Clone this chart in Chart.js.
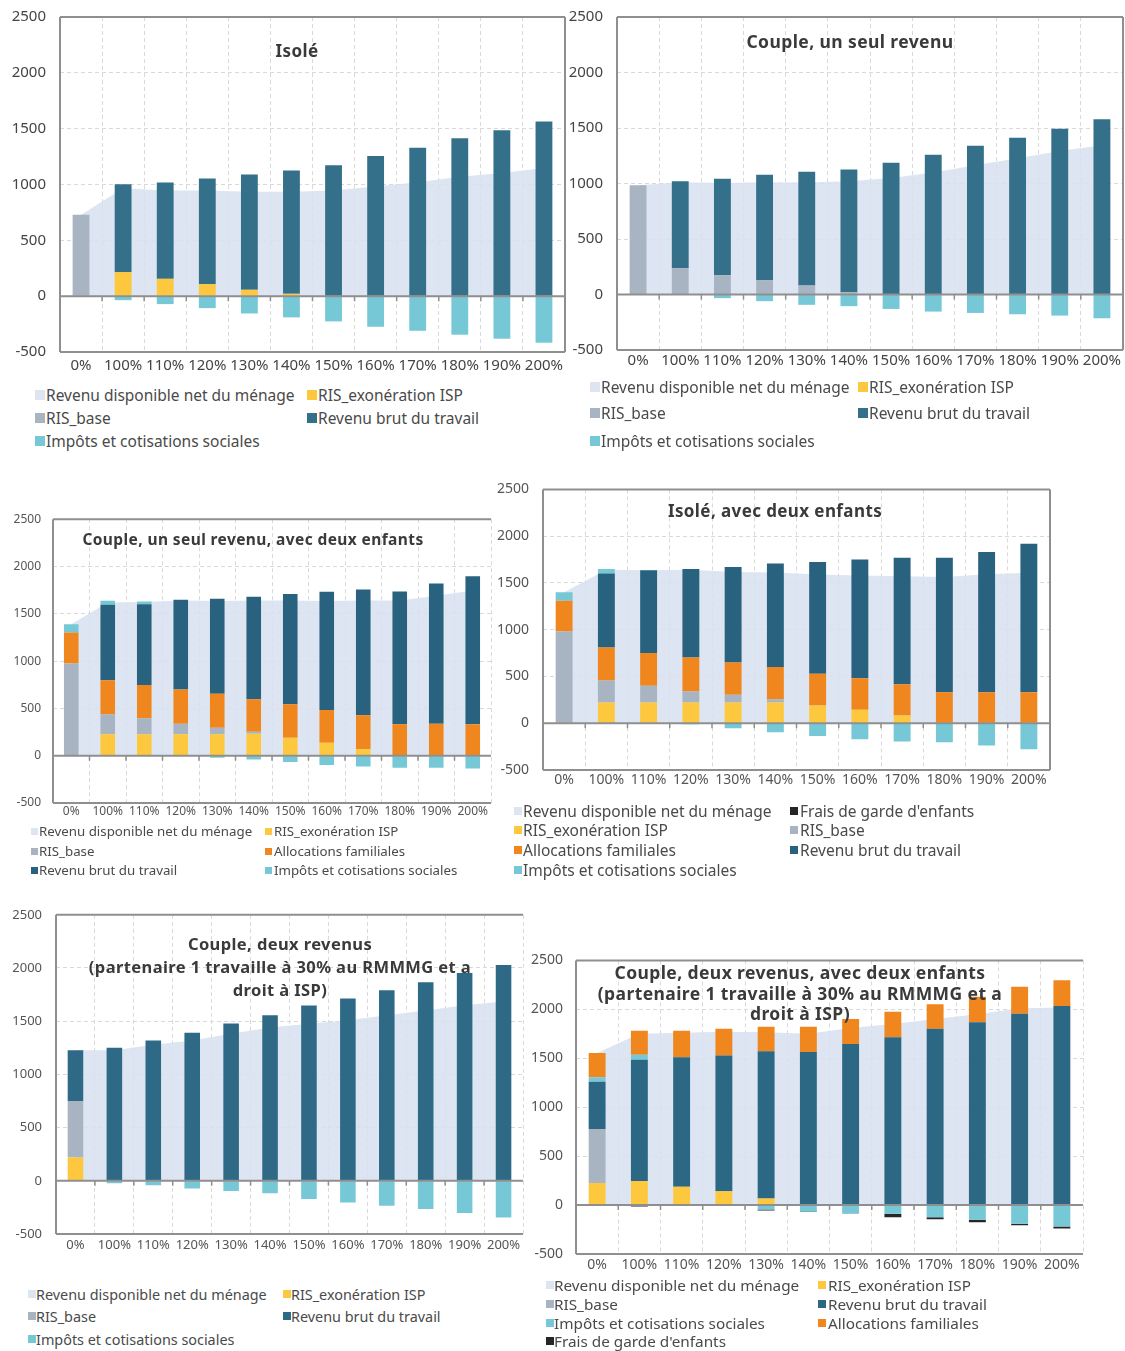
<!DOCTYPE html>
<html>
<head>
<meta charset="utf-8">
<script src="https://cdn.jsdelivr.net/npm/chart.js@4.4.1/dist/chart.umd.min.js"></script>
<style>
  body { margin: 0; background: #fff; width: 1125px; height: 1351px; position: relative; overflow: hidden; font-family: "Noto Sans", sans-serif; }
  canvas { position: absolute; }
  .title { position: absolute; transform: translate(-50%, -50%); font-weight: bold; color: #3a3a3a; white-space: nowrap; z-index: 2; letter-spacing: 0.4px; }
  .leg { position: absolute; white-space: nowrap; color: #4a4a4a; transform: translateY(-50%); z-index: 2; }
  .mk { position: absolute; z-index: 2; }
</style>
</head>
<body>
<script>
// categories & ticks
const categories = ['0%', '100%', '110%', '120%', '130%', '140%', '150%', '160%', '170%', '180%', '190%', '200%'];
const yTickValues = [-500, 0, 500, 1000, 1500, 2000, 2500];

// Isolé
const isole_net     = [730, 967, 947, 947, 934, 935, 947, 982, 1020, 1069, 1104, 1148];
const isole_risExo  = [0, 215, 155, 107, 57, 21, 0, 0, 0, 0, 0, 0];
const isole_risBase = [730, 0, 0, 0, 0, 0, 0, 0, 0, 0, 0, 0];
const isole_brut    = [0, 788, 863, 947, 1032, 1104, 1173, 1256, 1330, 1414, 1485, 1565];
const isole_impots  = [0, -36, -71, -107, -155, -190, -226, -274, -310, -345, -381, -417];

// Couple, un seul revenu
const couple_net     = [985, 1012, 1005, 1012, 1010, 1020, 1050, 1100, 1165, 1228, 1292, 1345];
const couple_risExo  = [0, 0, 0, 0, 0, 0, 0, 0, 0, 0, 0, 0];
const couple_risBase = [985, 238, 175, 130, 81, 21, 0, 0, 0, 0, 0, 0];
const couple_brut    = [0, 783, 867, 948, 1024, 1106, 1187, 1259, 1340, 1413, 1494, 1578];
const couple_impots  = [0, 0, -33, -60, -93, -105, -130, -154, -166, -178, -190, -214];

// Couple, un seul revenu, avec deux enfants
const c2e_net     = [1390, 1620, 1625, 1640, 1635, 1640, 1640, 1635, 1640, 1640, 1690, 1745];
const c2e_risExo  = [0, 226, 226, 226, 226, 233, 191, 138, 67, 0, 0, 0];
const c2e_risBase = [974, 212, 169, 113, 70, 21, 0, 0, 0, 0, 0, 0];
const c2e_alloc   = [328, 359, 353, 360, 360, 342, 352, 345, 360, 332, 339, 332];
const c2e_brut    = [0, 798, 854, 949, 1002, 1084, 1165, 1250, 1330, 1404, 1482, 1566];
const c2e_impots  = [88, 42, 28, 0, -21, -39, -67, -99, -113, -127, -127, -134];

// Isolé, avec deux enfants
const i2e_net     = [1400, 1640, 1636, 1640, 1617, 1611, 1589, 1579, 1572, 1564, 1593, 1610];
const i2e_frais   = [0, 0, 0, 0, 0, 0, 0, 0, 0, 0, 0, 0];
const i2e_risExo  = [0, 221, 221, 221, 221, 221, 189, 143, 82, 0, 0, 0];
const i2e_risBase = [980, 236, 179, 118, 83, 36, 0, 0, 0, 0, 0, 0];
const i2e_alloc   = [330, 354, 350, 365, 346, 343, 340, 339, 336, 332, 332, 332];
const i2e_brut    = [0, 789, 886, 946, 1021, 1107, 1196, 1268, 1350, 1436, 1500, 1586];
const i2e_impots  = [90, 50, 0, -10, -54, -96, -136, -171, -196, -204, -239, -279];

// Couple, deux revenus
const c2r_net     = [1228, 1228, 1278, 1319, 1381, 1440, 1475, 1510, 1557, 1600, 1650, 1684];
const c2r_risExo  = [219, 0, 0, 0, 0, 0, 0, 0, 0, 0, 0, 0];
const c2r_risBase = [531, 0, 0, 0, 0, 0, 0, 0, 0, 0, 0, 0];
const c2r_brut    = [478, 1250, 1319, 1391, 1478, 1556, 1647, 1713, 1791, 1866, 1953, 2028];
const c2r_impots  = [0, -22, -41, -72, -97, -116, -172, -203, -234, -266, -303, -344];

// Couple, deux revenus, avec deux enfants
const c2r2e_net     = [1554, 1750, 1760, 1770, 1765, 1750, 1810, 1850, 1900, 1950, 2010, 2020];
const c2r2e_risExo  = [226, 247, 186, 142, 68, 0, 0, 0, 0, 0, 0, 0];
const c2r2e_risBase = [551, 0, 0, 0, 0, 0, 0, 0, 0, 0, 0, 0];
const c2r2e_brut    = [483, 1239, 1324, 1385, 1503, 1564, 1645, 1716, 1801, 1868, 1956, 2034];
const c2r2e_impots  = [47, 51, 0, 0, -45, -65, -85, -90, -125, -150, -190, -220];
const c2r2e_alloc   = [247, 243, 270, 274, 250, 257, 257, 260, 250, 260, 274, 263];
const c2r2e_frais   = [0, -15, 0, 0, -10, -5, -5, -35, -20, -25, -15, -20];

const COLORS = {
  net: '#dde5f0', exo: '#fdc83d', base: '#a9b4c2', brut: '#35708a',
  impots: '#76c8d6', alloc: '#f0861e', frais: '#262626'
};
const LABELS = {
  net: 'Revenu disponible net du ménage', exo: 'RIS_exonération ISP', base: 'RIS_base',
  brut: 'Revenu brut du travail', impots: 'Impôts et cotisations  sociales',
  alloc: 'Allocations familiales', frais: "Frais de garde d'enfants"
};

// frame, zero line and small ticks on the zero line
const framePlugin = {
  id: 'frame',
  afterDatasetsDraw(chart, args, opts) {
    const { ctx, chartArea: a, scales: { x, y } } = chart;
    ctx.save();
    ctx.strokeStyle = '#8f8f8f';
    ctx.lineWidth = 2;
    ctx.beginPath();
    if (opts.right) {
      ctx.moveTo(a.right, a.top); ctx.lineTo(a.right, a.bottom);
    }
    ctx.moveTo(a.left, a.top); ctx.lineTo(a.right, a.top);
    ctx.moveTo(a.left, a.top); ctx.lineTo(a.left, a.bottom);
    ctx.moveTo(a.left, a.bottom); ctx.lineTo(a.right, a.bottom);
    const y0 = y.getPixelForValue(0);
    ctx.moveTo(a.left, y0); ctx.lineTo(a.right, y0);
    ctx.stroke();
    ctx.lineWidth = 1.5;
    ctx.beginPath();
    for (let i = 1; i < categories.length; i++) {
      const xb = (x.getPixelForValue(i - 1) + x.getPixelForValue(i)) / 2;
      ctx.moveTo(xb, y0); ctx.lineTo(xb, y0 + 5);
    }
    ctx.stroke();
    ctx.restore();
  }
};

function addText(cls, txt, x, y, size) {
  const d = document.createElement('div');
  d.className = cls;
  d.textContent = txt;
  d.style.left = x + 'px';
  d.style.top = y + 'px';
  d.style.fontSize = size + 'px';
  document.body.appendChild(d);
  return d;
}

function drawChart(p, left, top, w, h) {
  const cv = document.createElement('canvas');
  cv.width = w; cv.height = h;
  cv.style.left = left + 'px'; cv.style.top = top + 'px';
  document.body.appendChild(cv);

  const datasets = [{
    type: 'line', label: LABELS.net, data: p.series.net, stack: 'net',
    fill: 'origin', backgroundColor: 'rgba(214,224,238,0.85)', borderWidth: 0,
    pointRadius: 0, tension: 0, order: 10
  }];
  p.stack.forEach(k => datasets.push({
    type: 'bar', label: LABELS[k], data: p.series[k], stack: 'bars',
    backgroundColor: k === 'brut' ? p.brutColor : COLORS[k],
    barPercentage: p.barPct, categoryPercentage: 1, order: 1
  }));

  const tickFont = { family: 'Noto Sans', size: p.tickFont };
  const chart = new Chart(cv, {
    data: { labels: categories, datasets: datasets },
    options: {
      responsive: false, maintainAspectRatio: false, animation: false, devicePixelRatio: 1,
      layout: { padding: { top: 0, right: 4, left: 0, bottom: 0 } },
      plugins: { legend: { display: false }, tooltip: { enabled: false }, frame: { right: p.rightBorder } },
      scales: {
        x: {
          stacked: true,
          grid: { offset: true, color: '#d9d9d9', drawTicks: false },
          border: { display: false, dash: [4, 3] },
          ticks: { font: tickFont, color: p.tickColor, padding: p.xPad, maxRotation: 0, autoSkip: false },
          afterFit: s => { s.height = 30; }
        },
        y: {
          stacked: true,
          min: yTickValues[0], max: yTickValues[yTickValues.length - 1],
          grid: { color: '#d9d9d9', drawTicks: false },
          border: { display: false, dash: [4, 3] },
          ticks: { stepSize: 500, font: tickFont, color: p.tickColor, padding: p.yPad,
            callback: v => String(v) },
          afterFit: s => { s.width = 60; }
        }
      }
    },
    plugins: [framePlugin]
  });
  return { chart, cv };
}

function makePanel(p) {
  const A = p.area;
  // first pass: measure how far the chart area sits inside the canvas
  let first = drawChart(p, 0, 0, A.r - A.l + 80, A.b - A.t + 60);
  const ca = first.chart.chartArea;
  const offL = ca.left, offT = ca.top;
  const offR = first.chart.width - ca.right, offB = first.chart.height - ca.bottom;
  first.chart.destroy();
  first.cv.remove();
  // second pass: place the chart area exactly on the reference box
  drawChart(p, A.l - offL, A.t - offT, A.r - A.l + offL + offR, A.b - A.t + offT + offB);

  p.title.forEach((t, i) => addText('title', t, p.titleX, p.titleY[i], p.titleSize));

  const L = p.legend;
  L.items.forEach((row, r) => {
    row.forEach((k, c) => {
      const col = L.cols[c];
      const m = document.createElement('div');
      m.className = 'mk';
      m.style.left = col[0] + 'px';
      m.style.top = (L.rows[r] - L.mk / 2) + 'px';
      m.style.width = L.mk + 'px';
      m.style.height = L.mk + 'px';
      m.style.background = k === 'brut' ? p.brutColor : COLORS[k];
      document.body.appendChild(m);
      addText('leg', LABELS[k], col[1], L.rows[r], L.font);
    });
  });
}

makePanel({
  area: { l: 60, t: 17, r: 565, b: 352 }, rightBorder: true,
  tickFont: 15, tickColor: '#444', yPad: 14, xPad: 5, barPct: 0.4,
  title: ['Isolé'], titleX: 297, titleY: [50], titleSize: 17,
  series: { net: isole_net, exo: isole_risExo, base: isole_risBase, brut: isole_brut, impots: isole_impots },
  stack: ['exo', 'base', 'brut', 'impots'], brutColor: '#35708a',
  legend: { font: 15.5, mk: 10, rows: [395, 418, 441], cols: [[35, 46], [307, 318]],
    items: [['net', 'exo'], ['base', 'brut'], ['impots']] }
});

makePanel({
  area: { l: 617, t: 17, r: 1123, b: 350 }, rightBorder: true,
  tickFont: 15, tickColor: '#444', yPad: 14, xPad: 2, barPct: 0.4,
  title: ['Couple, un seul revenu'], titleX: 850, titleY: [41], titleSize: 17.5,
  series: { net: couple_net, exo: couple_risExo, base: couple_risBase, brut: couple_brut, impots: couple_impots },
  stack: ['exo', 'base', 'brut', 'impots'], brutColor: '#35708a',
  legend: { font: 15.5, mk: 10, rows: [387, 413, 441], cols: [[590, 601], [858, 869]],
    items: [['net', 'exo'], ['base', 'brut'], ['impots']] }
});

makePanel({
  area: { l: 53, t: 519, r: 491, b: 803 }, rightBorder: false,
  tickFont: 12, tickColor: '#555', yPad: 12, xPad: 1, barPct: 0.4,
  title: ['Couple, un seul revenu, avec deux enfants'], titleX: 253, titleY: [539], titleSize: 15.5,
  series: { net: c2e_net, exo: c2e_risExo, base: c2e_risBase, alloc: c2e_alloc, brut: c2e_brut, impots: c2e_impots },
  stack: ['exo', 'base', 'alloc', 'brut', 'impots'], brutColor: '#29627f',
  legend: { font: 13.3, mk: 7, rows: [831, 851, 870], cols: [[31, 39], [265, 274]],
    items: [['net', 'exo'], ['base', 'alloc'], ['brut', 'impots']] }
});

makePanel({
  area: { l: 543, t: 489, r: 1050, b: 770 }, rightBorder: true,
  tickFont: 14, tickColor: '#555', yPad: 14, xPad: 2, barPct: 0.4,
  title: ['Isolé, avec deux enfants'], titleX: 775, titleY: [510], titleSize: 17,
  series: { net: i2e_net, frais: i2e_frais, exo: i2e_risExo, base: i2e_risBase, alloc: i2e_alloc, brut: i2e_brut, impots: i2e_impots },
  stack: ['frais', 'exo', 'base', 'alloc', 'brut', 'impots'], brutColor: '#29627f',
  legend: { font: 15.5, mk: 8, rows: [811, 830, 850, 870], cols: [[514, 523], [790, 800]],
    items: [['net', 'frais'], ['exo', 'base'], ['alloc', 'brut'], ['impots']] }
});

makePanel({
  area: { l: 56, t: 915, r: 523, b: 1235 }, rightBorder: false,
  tickFont: 13, tickColor: '#555', yPad: 14, xPad: 3, barPct: 0.4,
  title: ['Couple, deux revenus', '(partenaire 1 travaille à 30% au RMMMG et a', 'droit à ISP)'],
  titleX: 280, titleY: [943, 966, 989], titleSize: 16.5,
  series: { net: c2r_net, exo: c2r_risExo, base: c2r_risBase, brut: c2r_brut, impots: c2r_impots },
  stack: ['exo', 'base', 'brut', 'impots'], brutColor: '#2e6a85',
  legend: { font: 14.4, mk: 8, rows: [1294, 1316, 1339], cols: [[28, 36], [283, 291]],
    items: [['net', 'exo'], ['base', 'brut'], ['impots']] }
});

makePanel({
  area: { l: 576, t: 960, r: 1083, b: 1254 }, rightBorder: false,
  tickFont: 14, tickColor: '#555', yPad: 13, xPad: 3, barPct: 0.4,
  title: ['Couple, deux revenus, avec deux enfants', '(partenaire 1 travaille à 30% au RMMMG et a', 'droit à ISP)'],
  titleX: 800, titleY: [972, 993, 1013], titleSize: 17.5,
  series: { net: c2r2e_net, exo: c2r2e_risExo, base: c2r2e_risBase, brut: c2r2e_brut, impots: c2r2e_impots, alloc: c2r2e_alloc, frais: c2r2e_frais },
  stack: ['exo', 'base', 'brut', 'impots', 'alloc', 'frais'], brutColor: '#2c6884',
  legend: { font: 15.3, mk: 8, rows: [1285, 1304, 1323, 1341], cols: [[546, 554], [818, 828]],
    items: [['net', 'exo'], ['base', 'brut'], ['impots', 'alloc'], ['frais']] }
});
</script>
</body>
</html>
